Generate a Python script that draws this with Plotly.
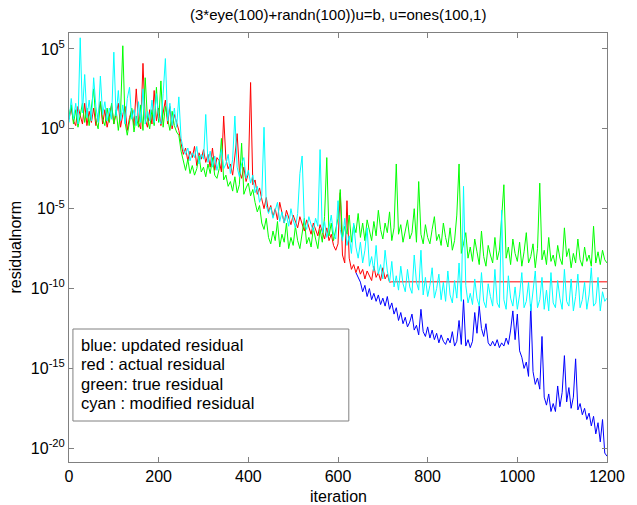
import plotly.graph_objects as go

# iteration grid (every 5 iterations)
iters = list(range(0, 1201, 5))

# log10 of residual norm
cyan_log = [
    0.4, 1.9, 0.6, 1.6, 0.3, 5.7, 1.0, 3.4, 0.7, 1.8,
    0.5, 3.2, 1.4, 0.4, 3.3, 0.9, 1.7, 0.5, 1.3, 0.6,
    4.8, 0.8, 2.4, 0.5, 1.5, 0.3, 1.9, 2.6, 0.6, 1.2,
    0.2, 1.7, 0.4, 2.5, 0.3, 1.1, 0.5, 1.8, 0.4, 2.2,
    0.7, 0.3, 2.2, 4.4, 0.5, 1.6, 0.2, 1.3, 0.1, 2.0,
    -0.6, -1.3, -1.6, -1.2, -2.0, -1.5, -1.8, -1.1, -2.2, -1.6,
    -1.9, 0.9, -2.1, -1.4, -2.4, -1.7, -2.6, -1.9, -1.3, -2.5,
    -2.2, -1.6, -2.8, -1.9, 0.8, -2.4, -3.0, -2.2, -1.8, -3.1,
    -2.6, -3.4, -2.9, -4.0, -3.6, -4.6, -4.2, 0.1, -4.8, -5.3,
    -4.9, -5.6, -5.1, -4.6, -5.8, -5.2, -5.9, -5.4, -6.1, -5.0,
    -5.7, -6.2, -5.3, -2.8, -1.7, -5.9, -6.3, -5.5, -6.0, -6.4,
    -5.6, -6.1, -1.3, -6.5, -5.8, -6.8, -6.2, -5.4, -6.6, -6.9,
    -4.5, -6.3, -7.0, -5.6, -7.3, -6.7, -7.8, -5.9, -7.4, -8.1,
    -7.1, -8.4, -7.6, -6.2, -8.6, -8.0, -8.9, -7.3, -9.1, -8.5,
    -9.4, -7.6, -8.9, -9.6, -8.3, -9.9, -9.2, -10.1, -8.6, -9.7,
    -10.2, -8.8, -9.9, -10.3, -7.9, -9.6, -10.1, -7.6, -10.4, -9.3,
    -10.5, -9.8, -8.7, -10.6, -10.0, -9.1, -10.7, -9.6, -10.8, -8.9,
    -10.4, -10.9, -9.5, -10.6, -8.4, -10.8, -3.6, -9.8, -10.9, -10.3,
    -11.0, -9.4, -10.6, -11.1, -9.0, -10.8, -11.2, -9.7, -10.5, -11.1,
    -8.8, -10.9, -11.2, -5.1, -10.7, -11.3, -9.2, -10.6, -11.1, -9.9,
    -11.3, -10.4, -9.0, -11.2, -10.8, -9.6, -11.4, -10.3, -8.9, -11.2,
    -10.7, -9.3, -11.3, -10.1, -11.4, -9.0, -10.9, -11.2, -9.5, -10.6,
    -11.3, -8.8, -10.8, -11.1, -9.4, -11.4, -10.5, -9.1, -11.2, -10.7,
    -9.6, -11.3, -10.4, -8.7, -11.1, -10.9, -9.3, -11.4, -10.2, -10.8,
    -10.6,
]

green_log = [
    0.8, 1.5, 0.3, 1.2, 0.1, 1.0, 1.6, 0.4, 1.3, 0.2,
    1.4, 2.5, 0.5, 0.0, 1.7, 0.6, 0.2, 1.3, 0.4, 1.6,
    0.3, 1.2, -0.1, 1.0, 5.2, 0.4, -0.4, 0.6, 1.3, -0.2,
    0.8, 0.1, 1.5, -0.1, 3.2, 0.6, 0.0, 1.2, 0.2, 2.6,
    0.4, 3.0, 0.1, 1.4, 0.5, -0.1, 1.1, 0.2, -0.2, -0.4,
    -1.4, -2.1, -2.6, -1.9, -2.8, -2.3, -2.9, -2.5, -1.7, -2.7,
    -2.4, -3.0, -2.2, -2.8, -1.8, -2.9, -3.1, -2.5, -0.6, -3.2,
    -2.9, -3.6, -3.3, -3.9, -3.0, -4.0, -3.5, -0.9, -4.1, -3.7,
    -3.4, -4.2, -3.8, -4.6, -5.2, -4.8, -5.9, -6.3, -5.6, -6.8,
    -7.2, -6.4, -7.0, -5.8, -7.4, -6.6, -7.1, -5.9, -7.5, -6.8,
    -7.3, -6.1, -7.0, -7.5, -6.5, -5.6, -7.2, -6.8, -7.4, -6.2,
    -6.9, -7.5, -6.3, -7.1, -5.5, -1.8, -6.7, -5.9, -7.0, -6.4,
    -5.6, -3.8, -6.8, -6.1, -6.6, -5.4, -7.1, -6.0, -6.5, -5.3,
    -6.8, -5.9, -7.0, -5.7, -6.4, -7.0, -5.8, -6.7, -5.1, -6.3,
    -6.9, -5.9, -6.5, -5.2, -7.0, -6.2, -2.2, -6.6, -6.0, -7.1,
    -6.4, -5.7, -6.9, -6.5, -5.0, -7.1, -3.3, -6.6, -7.2, -6.0,
    -6.8, -7.2, -6.3, -5.5, -7.0, -6.6, -7.3, -5.9, -6.8, -7.4,
    -6.2, -7.6, -7.0, -5.4, -2.2, -7.8, -7.2, -6.5, -8.1, -7.4,
    -8.3, -6.9, -7.7, -8.5, -6.4, -8.0, -8.6, -7.3, -7.9, -8.4,
    -6.8, -8.2, -7.6, -5.2, -3.5, -8.1, -7.4, -8.5, -6.9, -7.8,
    -8.3, -7.1, -8.6, -7.7, -6.5, -8.4, -8.0, -7.2, -8.7, -7.5,
    -3.4, -8.2, -7.6, -8.5, -6.8, -8.3, -7.9, -8.6, -7.3, -8.1,
    -8.5, -6.2, -8.0, -7.5, -8.7, -7.8, -8.4, -6.9, -8.2, -8.6,
    -7.4, -8.3, -7.9, -8.6, -6.1, -8.4, -7.7, -8.5, -7.6, -8.2,
    -8.4,
]

red_iters = list(range(0, 721, 5)) + [1200]
red_log = [
    0.6, 1.3, 0.5, 0.2, 1.4, 0.8, 0.3, 1.6, 0.2, 1.1,
    0.4, 1.3, 0.2, 0.9, 1.7, 0.3, 1.2, 0.1, 0.8, 1.5,
    0.3, 1.0, 1.6, 0.1, 0.9, 1.4, -0.1, 0.7, 1.2, 0.2,
    2.5, 0.4, 0.0, 4.1, 0.6, 0.1, 1.2, 0.3, 2.4, 0.5,
    1.3, 0.2, 0.9, 1.8, 0.3, 1.4, 0.0, 0.9, 0.4, -0.1,
    -0.9, -1.6, -1.2, -2.0, -1.4, -1.8, -1.1, -2.3, -1.5, -1.9,
    -1.3, -2.1, -1.6, -2.4, -1.2, -2.6, -1.8, -2.0, -2.7, 0.8,
    -1.9, -2.5, -2.2, -2.9, -1.7, -0.3, -2.6, -3.1, -2.4, -3.3,
    -2.8, 2.9, -3.5, -3.2, -4.1, -3.7, -4.4, -5.0, -4.3, -5.2,
    -4.8, -5.5, -5.0, -5.7, -4.6, -5.3, -5.9, -5.1, -5.6, -6.0,
    -5.4, -5.8, -6.2, -5.5, -6.0, -6.4, -5.7, -6.1, -6.6, -5.9,
    -6.3, -6.7, -6.0, -6.5, -6.9, -6.2, -7.0, -6.6, -7.3, -7.6,
    -7.2, -4.0, -7.9, -8.4, -4.5, -8.1, -8.8, -8.5, -9.0, -8.6,
    -9.1, -8.8, -9.4, -8.9, -9.2, -9.5, -8.6, -9.3, -9.0, -9.5,
    -8.7, -9.4, -9.1, -9.6, -9.58,
    -9.58,
]

blue_iters = list(range(640, 1201, 5))
blue_log = [
    -9.0, -9.3,
    -9.6, -10.2, -9.8, -10.5, -10.0, -10.7, -10.3, -10.8, -10.4, -11.0,
    -10.6, -11.1, -10.5, -11.3, -10.9, -11.6, -11.2, -12.0, -11.5, -12.2,
    -11.8, -12.4, -12.1, -11.6, -12.6, -12.3, -12.9, -11.3, -12.7, -13.0,
    -12.4, -13.1, -12.6, -13.2, -12.8, -13.4, -12.9, -13.3, -13.5, -13.1,
    -13.4, -12.7, -13.6, -13.3, -12.0, -13.5, -10.7, -13.6, -13.2, -13.7,
    -13.3, -11.5, -12.8, -11.1, -12.5, -13.0, -12.2, -13.4, -13.6, -13.3,
    -13.6, -13.2, -13.7, -13.4, -13.6, -13.1, -13.5, -12.6, -11.4, -13.2,
    -11.6, -13.9, -14.3, -15.0, -14.6, -15.5, -11.0, -15.2, -16.0, -15.6,
    -16.3, -13.0, -16.8, -17.3, -16.6, -17.7, -17.2, -17.7, -16.1, -17.4,
    -16.5, -14.2, -17.1, -16.2, -17.5, -16.8, -14.4, -17.6, -17.2, -17.9,
    -17.5, -18.2, -17.8, -18.6, -18.0, -19.1, -18.4, -19.6, -18.2, -20.3,
    -20.5,
]

x_ticks = [0, 200, 400, 600, 800, 1000, 1200]
y_tick_exps = [5, 0, -5, -10, -15, -20]
legend_lines = [
    "blue: updated residual",
    "red : actual residual",
    "green: true residual",
    "cyan : modified residual",
]

FONT = "Liberation Sans, Arial, sans-serif"

def pw(v):
    return [10 ** e for e in v]

fig = go.Figure()
series = [
    (blue_iters, blue_log, "#0000ff"),
    (red_iters, red_log, "#ff0000"),
    (iters, green_log, "#00ff00"),
    (iters, cyan_log, "#00ffff"),
]
for xs, ys, col in series:
    fig.add_trace(go.Scatter(x=xs, y=pw(ys), mode="lines",
                             line=dict(color=col, width=1),
                             showlegend=False, hoverinfo="skip"))

W, H = 637, 505
L, R, T, B = 69, 20, 33, 43
pw_w = W - L - R
ph_h = H - T - B

def px2paper_x(px):
    return (px - L) / pw_w

def px2paper_y(py):
    return (H - B - py) / ph_h

fig.update_layout(
    width=W, height=H,
    margin=dict(l=L, r=R, t=T, b=B, pad=0),
    paper_bgcolor="white", plot_bgcolor="white",
    font=dict(family=FONT, size=15, color="black"),
    showlegend=False,
    xaxis=dict(range=[0, 1200], tickvals=x_ticks, ticks="inside", ticklen=5,
               tickcolor="#808080", showline=True, linecolor="#808080",
               linewidth=1, mirror="ticks", showgrid=False, zeroline=False,
               tickfont=dict(size=16)),
    yaxis=dict(type="log", range=[-20.86, 6.0],
               tickvals=[10 ** e for e in y_tick_exps],
               ticktext=["10<sup>%d</sup>" % e for e in y_tick_exps],
               ticks="inside", ticklen=5, tickcolor="#808080",
               showline=True, linecolor="#808080", linewidth=1,
               mirror="ticks", showgrid=False, zeroline=False,
               tickfont=dict(size=16)),
)

annotations = [
    dict(text="(3*eye(100)+randn(100))u=b, u=ones(100,1)", xref="paper", yref="paper",
         x=0.5, y=px2paper_y(14), xanchor="center", yanchor="middle",
         showarrow=False, font=dict(size=15)),
    dict(text="iteration", xref="paper", yref="paper", x=0.5, y=px2paper_y(496),
         xanchor="center", yanchor="middle", showarrow=False, font=dict(size=16)),
    dict(text="residualnorm", xref="paper", yref="paper", x=px2paper_x(14),
         y=0.5, xanchor="center", yanchor="middle", textangle=-90,
         showarrow=False, font=dict(size=16)),
]
line_y = [345, 364, 383.5, 402.5]
for txt, yy in zip(legend_lines, line_y):
    annotations.append(dict(text=txt, xref="paper", yref="paper",
                            x=px2paper_x(79), y=px2paper_y(yy),
                            xanchor="left", yanchor="middle", showarrow=False,
                            font=dict(size=16.5)))
fig.update_layout(annotations=annotations)
fig.add_shape(type="rect", xref="paper", yref="paper",
              x0=px2paper_x(73), x1=px2paper_x(354),
              y0=px2paper_y(421), y1=px2paper_y(329),
              line=dict(color="#808080", width=1), fillcolor="white", layer="above")

fig.write_html("out.html", config={"displayModeBar": False})
